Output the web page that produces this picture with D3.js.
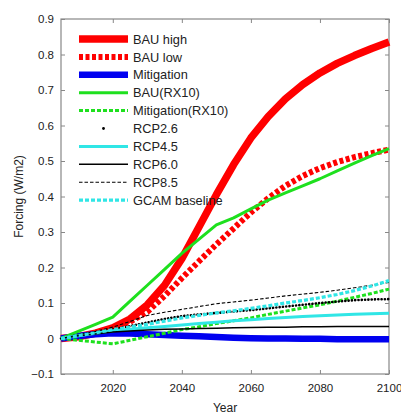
<!DOCTYPE html>
<html>
<head>
<meta charset="utf-8">
<script src="https://cdn.jsdelivr.net/npm/d3@7"></script>
<style>
  body { margin: 0; background: #fff; }
  svg text { font-family: "Liberation Sans", Arial, Helvetica, sans-serif; fill: #222; }
</style>
</head>
<body>
<svg id="chart" width="401" height="414"></svg>
<script>
const years = [2005, 2010, 2015, 2020, 2025, 2030, 2035, 2040, 2045, 2050,
               2055, 2060, 2065, 2070, 2075, 2080, 2085, 2090, 2095, 2100];

const bauHigh    = [0, 0.005, 0.015, 0.03, 0.055, 0.095, 0.15, 0.225, 0.315, 0.405, 0.49, 0.565, 0.625, 0.675, 0.715, 0.748, 0.775, 0.797, 0.817, 0.835];
const bauLow     = [0, 0.005, 0.015, 0.03, 0.047, 0.075, 0.12, 0.17, 0.218, 0.265, 0.31, 0.355, 0.395, 0.43, 0.458, 0.48, 0.497, 0.511, 0.522, 0.532];
const mitigation = [0, 0.007, 0.012, 0.015, 0.014, 0.012, 0.01, 0.008, 0.006, 0.004, 0.002, 0.001, 0, 0, -0.001, -0.001, -0.002, -0.002, -0.002, -0.002];
const bauRX10    = [0, 0.02, 0.04, 0.06, 0.105, 0.15, 0.195, 0.24, 0.28, 0.32, 0.34, 0.365, 0.39, 0.41, 0.43, 0.45, 0.472, 0.494, 0.515, 0.535];
const mitRX10    = [0, -0.005, -0.01, -0.015, -0.005, 0.005, 0.015, 0.025, 0.033, 0.042, 0.05, 0.058, 0.068, 0.077, 0.086, 0.095, 0.105, 0.116, 0.127, 0.139];
const rcp26      = [0, 0.01, 0.018, 0.025, 0.035, 0.045, 0.055, 0.063, 0.068, 0.072, 0.076, 0.08, 0.085, 0.09, 0.095, 0.1, 0.104, 0.108, 0.11, 0.111];
const rcp45      = [0, 0.008, 0.015, 0.022, 0.026, 0.03, 0.034, 0.038, 0.042, 0.046, 0.05, 0.053, 0.056, 0.059, 0.062, 0.064, 0.066, 0.068, 0.07, 0.071];
const rcp60      = [0, 0.008, 0.013, 0.018, 0.021, 0.024, 0.026, 0.027, 0.028, 0.029, 0.03, 0.031, 0.032, 0.032, 0.033, 0.033, 0.034, 0.034, 0.034, 0.034];
const rcp85      = [0, 0.01, 0.02, 0.032, 0.048, 0.065, 0.074, 0.082, 0.09, 0.098, 0.103, 0.108, 0.114, 0.12, 0.125, 0.13, 0.136, 0.143, 0.15, 0.158];
const gcam       = [0, 0.008, 0.016, 0.025, 0.032, 0.04, 0.049, 0.058, 0.065, 0.072, 0.078, 0.085, 0.092, 0.1, 0.107, 0.115, 0.124, 0.135, 0.148, 0.163];

const seriesNames = ["BAU high", "BAU low", "Mitigation", "BAU(RX10)", "Mitigation(RX10)",
                     "RCP2.6", "RCP4.5", "RCP6.0", "RCP8.5", "GCAM baseline"];
const seriesValues = [bauHigh, bauLow, mitigation, bauRX10, mitRX10, rcp26, rcp45, rcp60, rcp85, gcam];

const xTicks = [2020, 2040, 2060, 2080, 2100];
const yTicks = [-0.1, 0, 0.1, 0.2, 0.3, 0.4, 0.5, 0.6, 0.7, 0.8, 0.9];

// line styles, matched to the legend order
const styles = {
  "BAU high":         { color: "#ff0000", width: 7.5, dash: null },
  "BAU low":          { color: "#ff0000", width: 6,   dash: "4,2.5" },
  "Mitigation":       { color: "#0000f0", width: 6.5, dash: null },
  "BAU(RX10)":        { color: "#1ee01e", width: 3,   dash: null },
  "Mitigation(RX10)": { color: "#1ee01e", width: 3,   dash: "4,2" },
  "RCP2.6":           { color: "#000",    width: 2.6, dash: "0.1,3.2", cap: "round" },
  "RCP4.5":           { color: "#30e6e6", width: 3,   dash: null },
  "RCP6.0":           { color: "#000",    width: 1.5, dash: null },
  "RCP8.5":           { color: "#000",    width: 1.1, dash: "3.5,2" },
  "GCAM baseline":    { color: "#30e6e6", width: 3.2, dash: "4,2" }
};

const svg = d3.select("#chart");
const margin = { left: 61, right: 12, top: 19, bottom: 40 };
const width = 401 - margin.left - margin.right;
const height = 414 - margin.top - margin.bottom;

const x = d3.scaleLinear().domain([2005, 2100]).range([0, width]);
const y = d3.scaleLinear().domain([-0.1, 0.9]).range([height, 0]);

const g = svg.append("g").attr("transform", `translate(${margin.left},${margin.top})`);

// frame with inward ticks on all sides
const frameColor = "#888";
function styleAxis(sel) {
  sel.select(".domain").remove();
  sel.selectAll(".tick line").attr("stroke", frameColor);
  sel.selectAll(".tick text").attr("font-size", 11.5).attr("fill", "#222");
}

g.append("g")
  .attr("transform", `translate(0,${height})`)
  .call(d3.axisBottom(x).tickValues(xTicks).tickFormat(d3.format("d")).tickSizeInner(-4).tickPadding(10))
  .call(styleAxis);
g.append("g")
  .call(d3.axisTop(x).tickValues(xTicks).tickFormat("").tickSizeInner(-4))
  .call(styleAxis);
g.append("g")
  .call(d3.axisLeft(y).tickValues(yTicks).tickFormat(d => d === 0 ? "0" : d3.format(".1f")(d)).tickSizeInner(-4).tickPadding(7))
  .call(styleAxis);
g.append("g")
  .attr("transform", `translate(${width},0)`)
  .call(d3.axisRight(y).tickValues(yTicks).tickFormat("").tickSizeInner(-4))
  .call(styleAxis);

g.append("rect")
  .attr("width", width)
  .attr("height", height)
  .attr("fill", "none")
  .attr("stroke", frameColor)
  .attr("stroke-width", 1.2);

// series
const line = d3.line().x((d, i) => x(years[i])).y(d => y(d));

seriesNames.forEach((name, k) => {
  const s = styles[name];
  g.append("path")
    .datum(seriesValues[k])
    .attr("d", line)
    .attr("fill", "none")
    .attr("stroke", s.color)
    .attr("stroke-width", s.width)
    .attr("stroke-dasharray", s.dash)
    .attr("stroke-linecap", s.cap || "butt")
    .attr("stroke-linejoin", "round");
});

// legend
const legend = g.append("g").attr("transform", "translate(18,20)");
seriesNames.forEach((name, k) => {
  const s = styles[name];
  const row = legend.append("g").attr("transform", `translate(0,${k * 17.9})`);
  if (name === "RCP2.6") {
    row.append("circle").attr("cx", 24.5).attr("cy", 0).attr("r", 1.4).attr("fill", "#000");
  } else {
    row.append("line")
      .attr("x1", 0).attr("x2", 49)
      .attr("stroke", s.color)
      .attr("stroke-width", s.width)
      .attr("stroke-dasharray", s.dash);
  }
  row.append("text")
    .attr("x", 54)
    .attr("dy", "0.36em")
    .attr("font-size", 12.8)
    .text(name);
});

// axis labels
svg.append("text")
  .attr("x", margin.left + width / 2)
  .attr("y", 412)
  .attr("text-anchor", "middle")
  .attr("font-size", 12)
  .text("Year");

svg.append("text")
  .attr("transform", `translate(23,${margin.top + height / 2}) rotate(-90)`)
  .attr("text-anchor", "middle")
  .attr("font-size", 12)
  .text("Forcing (W/m2)");
</script>
</body>
</html>
